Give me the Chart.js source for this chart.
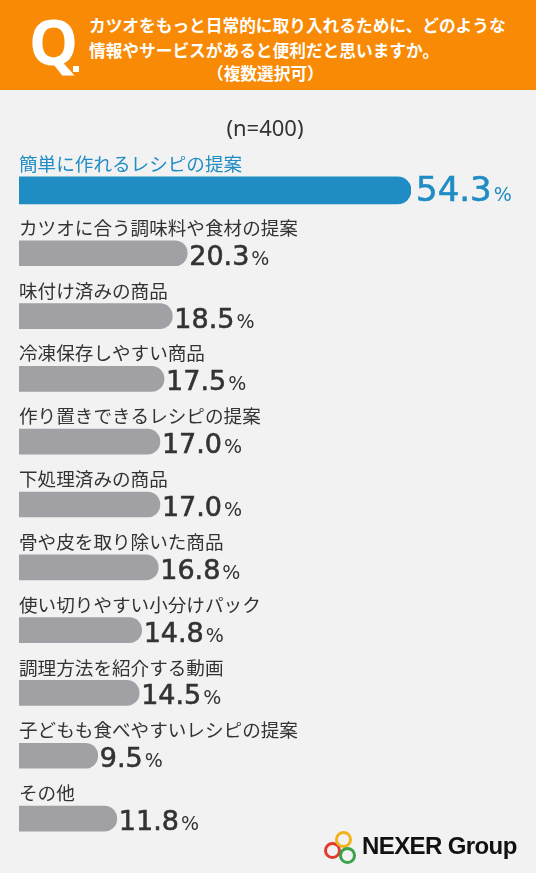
<!DOCTYPE html>
<html>
<head>
<meta charset="utf-8">
<script src="https://cdn.jsdelivr.net/npm/chart.js@4"></script>
<style>
  html, body { margin: 0; padding: 0; background: #f2f2f2; }
  #wrap { position: relative; width: 536px; height: 873px; overflow: hidden; background: #f2f2f2; font-family: "Noto Sans CJK JP", sans-serif; }
  #head { position: absolute; left: 0; top: 0; width: 536px; height: 90px; background: #f88a06; color: #fff; }
  #q { position: absolute; left: 29px; top: 6px; font: bold 62px "Noto Sans", sans-serif; line-height: 70px; }
  #qdot { position: absolute; left: 73px; top: 66px; width: 6px; height: 6px; background: #fff; }
  .tl { position: absolute; font-size: 16.7px; font-weight: bold; white-space: nowrap; line-height: 20px; }
  #n { position: absolute; left: 0; width: 530px; top: 112px; text-align: center; font: 22px "Noto Sans", sans-serif; color: #333; }
  #chartbox { position: absolute; left: 0; top: 0; width: 536px; height: 873px; }
  #logo { position: absolute; left: 322px; top: 830px; width: 200px; height: 36px; }
  .ring { position: absolute; width: 11px; height: 11px; border-radius: 50%; border: 3px solid; }
  #logotext { position: absolute; left: 40px; top: 2px; font: bold 24px "Liberation Sans", sans-serif; color: #111; letter-spacing: -0.6px; }
</style>
</head>
<body>
<div id="wrap">
  <div id="chartbox"><canvas id="chart"></canvas></div>
  <div id="head">
    <div id="q">Q</div><div id="qdot"></div>
    <div class="tl" style="left:89px;top:15px;">カツオをもっと日常的に取り入れるために、どのような</div>
    <div class="tl" style="left:89px;top:40px;">情報やサービスがあると便利だと思いますか。</div>
    <div class="tl" style="left:207px;top:63px;">（複数選択可）</div>
  </div>
  <div id="n">(n=400)</div>
  <div id="logo">
    <div class="ring" style="left:2px;top:12px;border-color:#e23a2e;"></div>
    <div class="ring" style="left:13px;top:1px;border-color:#f2b31b;"></div>
    <div class="ring" style="left:17px;top:17px;border-color:#3aa34a;"></div>
    <div id="logotext">NEXER Group</div>
  </div>
</div>
<script>
// 調査結果（n=400、複数選択可）
const categories = [
  '簡単に作れるレシピの提案',
  'カツオに合う調味料や食材の提案',
  '味付け済みの商品',
  '冷凍保存しやすい商品',
  '作り置きできるレシピの提案',
  '下処理済みの商品',
  '骨や皮を取り除いた商品',
  '使い切りやすい小分けパック',
  '調理方法を紹介する動画',
  '子どもも食べやすいレシピの提案',
  'その他'
];
const values = [54.3, 20.3, 18.5, 17.5, 17.0, 17.0, 16.8, 14.8, 14.5, 9.5, 11.8];

// 1位だけ省略スケール（元画像のバーは途中で短縮されている）
const topValues = values.map((v, i) => i === 0 ? v : null);
const restValues = values.map((v, i) => i === 0 ? null : v);

const BLUE = '#1f8cc4';
const GRAY = '#a0a0a5';
const TEXT = '#333333';

const labelPlugin = {
  id: 'rowLabels',
  afterDatasetsDraw(chart) {
    const ctx = chart.ctx;
    const left = chart.chartArea.left;
    ctx.save();
    categories.forEach((cat, i) => {
      const meta = chart.getDatasetMeta(i === 0 ? 0 : 1);
      const bar = meta.data[i];
      const top = bar.y - bar.height / 2;
      const bottom = bar.y + bar.height / 2;
      const color = i === 0 ? BLUE : TEXT;

      // 項目名（バーの上）
      ctx.fillStyle = color;
      ctx.strokeStyle = color;
      ctx.font = '18.6px "Noto Sans CJK JP"';
      ctx.textAlign = 'left';
      ctx.textBaseline = 'middle';
      ctx.fillText(cat, left, top - 13);

      // 数値 + %
      const num = values[i].toFixed(1);
      const big = i === 0 ? 34 : 27;
      const x0 = bar.x + (i === 0 ? 5 : 2);
      const base = bottom - (i === 0 ? 3 : 1);
      ctx.textBaseline = 'alphabetic';
      ctx.font = big + 'px "DejaVu Sans"';
      ctx.lineWidth = 0.6;
      ctx.fillText(num, x0, base);
      ctx.strokeText(num, x0, base);
      const w = ctx.measureText(num).width;
      ctx.font = '19px "DejaVu Sans"';
      ctx.fillText('%', x0 + w + 2, base);
    });
    ctx.restore();
  }
};

new Chart(document.getElementById('chart'), {
  type: 'bar',
  data: {
    labels: categories,
    datasets: [{
      data: topValues,
      xAxisID: 'xTop',
      backgroundColor: BLUE,
      barThickness: 27,
      borderRadius: 14,
      borderSkipped: 'start',
      grouped: false
    }, {
      data: restValues,
      xAxisID: 'x',
      backgroundColor: GRAY,
      barThickness: 25,
      borderRadius: 13,
      borderSkipped: 'start',
      grouped: false
    }]
  },
  options: {
    indexAxis: 'y',
    responsive: true,
    maintainAspectRatio: false,
    animation: false,
    layout: { padding: { left: 19, right: 125, top: 159, bottom: 23 } },
    plugins: { legend: { display: false }, tooltip: { enabled: false } },
    scales: {
      x: { display: false, min: 0, max: 47.3 },
      xTop: { display: false, min: 0, max: 54.3 },
      y: { display: false }
    }
  },
  plugins: [labelPlugin]
});
</script>
</body>
</html>
